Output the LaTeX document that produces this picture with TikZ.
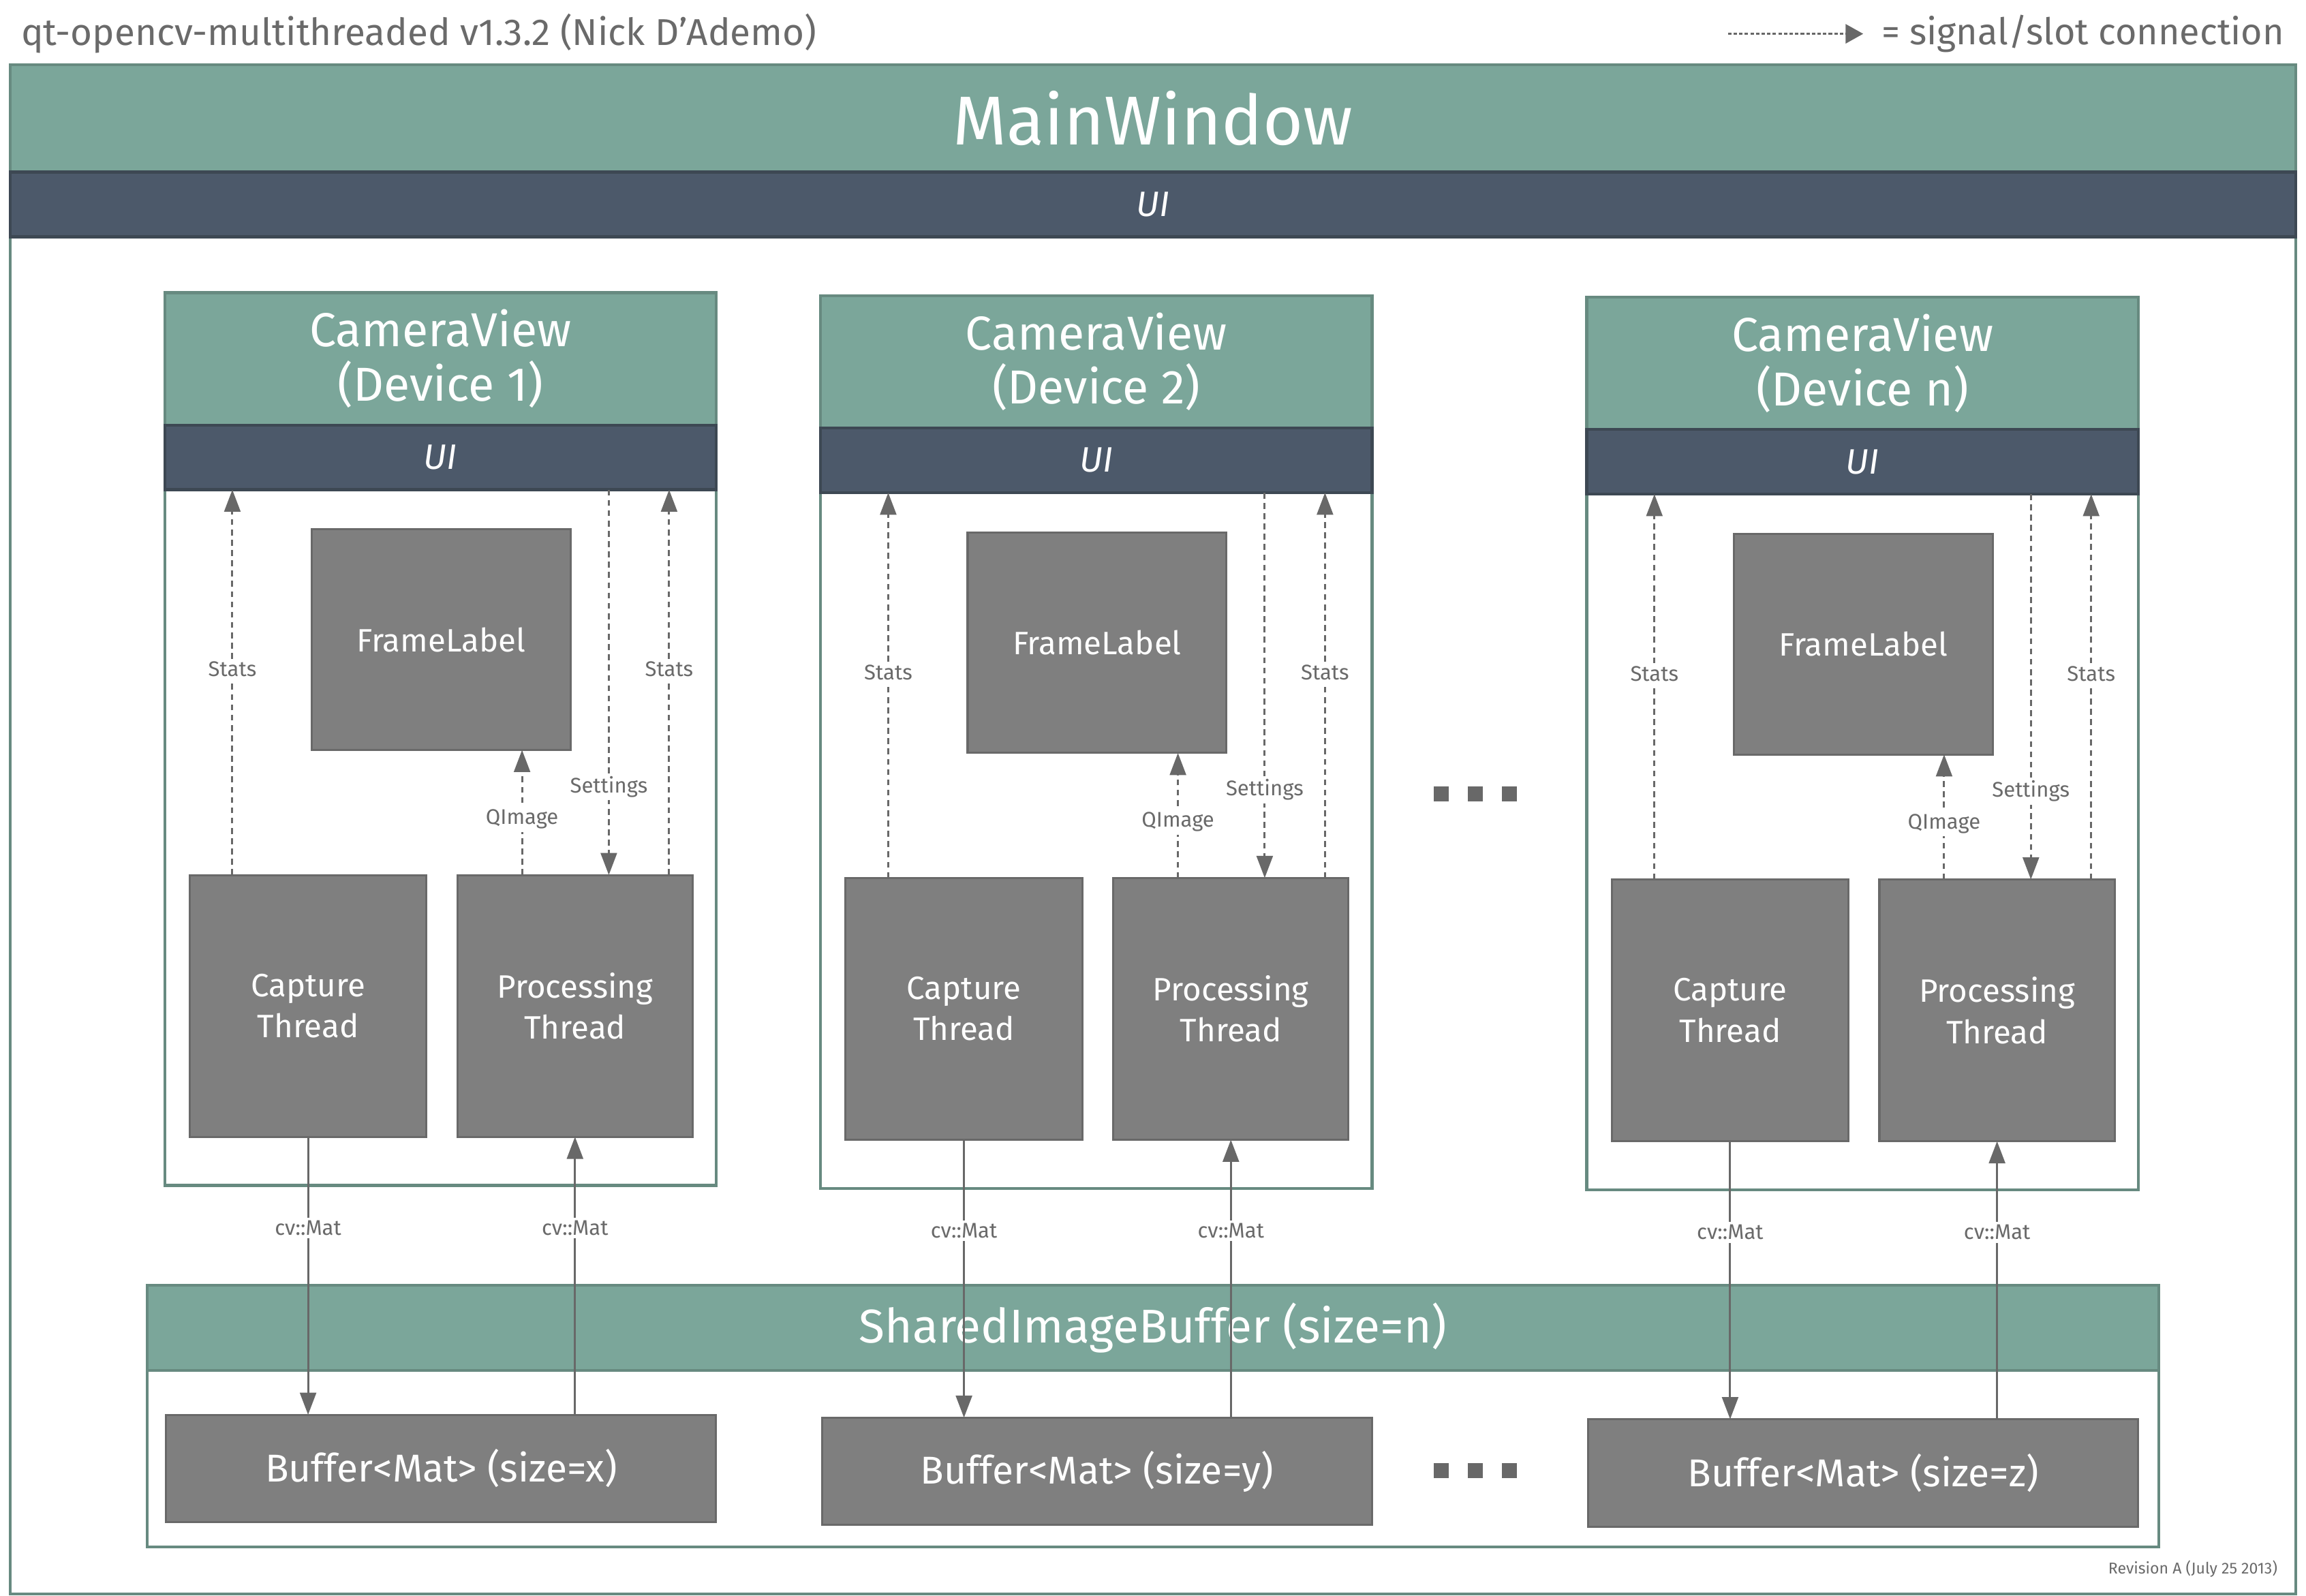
\documentclass[tikz,border=0pt]{standalone}
\usepackage{fontspec}
\setmainfont{Fira Sans}
\usetikzlibrary{arrows.meta}
\definecolor{tealfill}{HTML}{7BA69A}
\definecolor{tealline}{HTML}{678A80}
\definecolor{uifill}{HTML}{4C596A}
\definecolor{uiline}{HTML}{3D4853}
\definecolor{boxfill}{HTML}{7F7F7F}
\definecolor{boxline}{HTML}{696969}
\definecolor{arrowc}{HTML}{686868}
\definecolor{textgray}{HTML}{6A6A6A}
\tikzset{
  span/.style n args={4}{at={({(#1+#3)/2},{(#2+#4)/2})}, minimum width={(#3-#1)*0.5pt}, minimum height={(#4-#2)*0.5pt}, inner sep=0pt, outer sep=0pt},
  frame/.style={draw=tealline, line width=1pt, fill=white},
  header/.style={draw=tealline, fill=tealfill, line width=1pt, text=white, align=center},
  uibar/.style={draw=uiline, fill=uifill, line width=1pt, text=white, font=\itshape\fontsize{12}{14}\selectfont},
  graybox/.style={draw=boxline, fill=boxfill, line width=0.7pt, text=white, align=center, font=\fontsize{11}{14}\selectfont},
  flow/.style={draw=arrowc, line width=0.7pt, -{Triangle[length=7.5pt,width=5.5pt]}},
  sig/.style={flow, dash pattern=on 2pt off 1.5pt},
  legsig/.style={draw=arrowc, line width=0.7pt, dash pattern=on 1.2pt off 0.7pt, -{Triangle[length=6pt,width=6.5pt]}},
  lbl/.style={fill=white, text=textgray, font=\fontsize{7.2}{8}\selectfont, inner sep=1pt},
  dots/.style={fill=arrowc},
}
\begin{document}
\begin{tikzpicture}[x=0.5pt,y=-0.5pt]
\useasboundingbox (0,0) rectangle (1568.1,1084.8);
% title and legend
\node[anchor=west, text=textgray, font=\fontsize{12.7}{15}\selectfont, inner sep=0pt] (title) at (14,23) {qt-opencv-multithreaded v1.3.2 (Nick D’Ademo)};
\node[anchor=west, text=textgray, font=\fontsize{12.5}{15}\selectfont, inner sep=0pt] (legtxt) at (1279,23) {= signal/slot connection};
\coordinate (legA) at (1175,23);
\coordinate (legB) at (1267,23);
\draw[legsig] (legA) -- (legB);
% main window
\node[frame, span={7}{44}{1561}{1084}] (mw) {};
\node[header, span={7}{44}{1561}{117}, font=\fontsize{23.5}{26}\selectfont] (mwh) {MainWindow};
\node[uibar, span={7}{117}{1561}{161}] (mwui) {UI};
% camera views
\foreach \s/\dx/\dy/\dev in {1/0/0/1, 2/446/2/2, 3/967/3/n}{
  \begin{scope}[shift={(\dx,\dy)}]
    \node[frame, span={112}{199}{487}{806}] (cv\s) {};
    \node[header, span={112}{199}{487}{289}, font=\fontsize{16.2}{18.5}\selectfont] (cvh\s) {CameraView\\(Device \dev)};
    \node[uibar, span={112}{289}{487}{333}] (ui\s) {UI};
    \node[graybox, span={212}{360}{388}{510}] (fl\s) {FrameLabel};
    \node[graybox, span={129}{595}{290}{773}] (ct\s) {Capture\\Thread};
    \node[graybox, span={311}{595}{471}{773}] (pt\s) {Processing\\Thread};
    \coordinate (sl\s) at (158,0);
    \coordinate (sr\s) at (455,0);
    \coordinate (se\s) at (414,0);
    \coordinate (qi\s) at (355,0);
    \draw[sig] (ct\s.north -| sl\s) -- (ui\s.south -| sl\s) node[lbl, pos=0.534] {Stats};
    \draw[sig] (pt\s.north -| sr\s) -- (ui\s.south -| sr\s) node[lbl, pos=0.534] {Stats};
    \draw[sig] (ui\s.south -| se\s) -- (pt\s.north -| se\s) node[lbl, pos=0.771] {Settings};
    \draw[sig] (pt\s.north -| qi\s) -- (fl\s.south -| qi\s) node[lbl, pos=0.447] {QImage};
  \end{scope}
}
% shared image buffer
\node[frame, span={100}{874}{1468}{1052}] (sib) {};
\node[header, span={100}{874}{1468}{932}, font=\fontsize{16.1}{18}\selectfont] (sibh) {SharedImageBuffer (size=n)};
\foreach \s/\dx/\dy/\sz in {1/0/0/x, 2/446/2/y, 3/967/3/z}{
  \begin{scope}[shift={(\dx,\dy)}]
    \node[graybox, span={113}{962}{487}{1035}, font=\fontsize{13.2}{15}\selectfont] (buf\s) {Buffer<Mat> (size=\sz)};
  \end{scope}
  \draw[flow] (ct\s.south) -- (ct\s.south |- buf\s.north) node[lbl, pos=0.328] {cv::Mat};
  \draw[flow] (pt\s.south |- buf\s.north) -- (pt\s.south) node[lbl, pos=0.672] {cv::Mat};
}
% ellipses
\foreach \y in {540,1000}{
  \foreach \x in {975,998.2,1021.4}{
    \fill[dots] (\x,\y-5.1) rectangle ++(10.2,10.2);
  }
}
\node[anchor=east, text=textgray, font=\fontsize{5.35}{6}\selectfont, inner sep=0pt] (rev) at (1549,1067) {Revision A (July 25 2013)};
\end{tikzpicture}
\end{document}
